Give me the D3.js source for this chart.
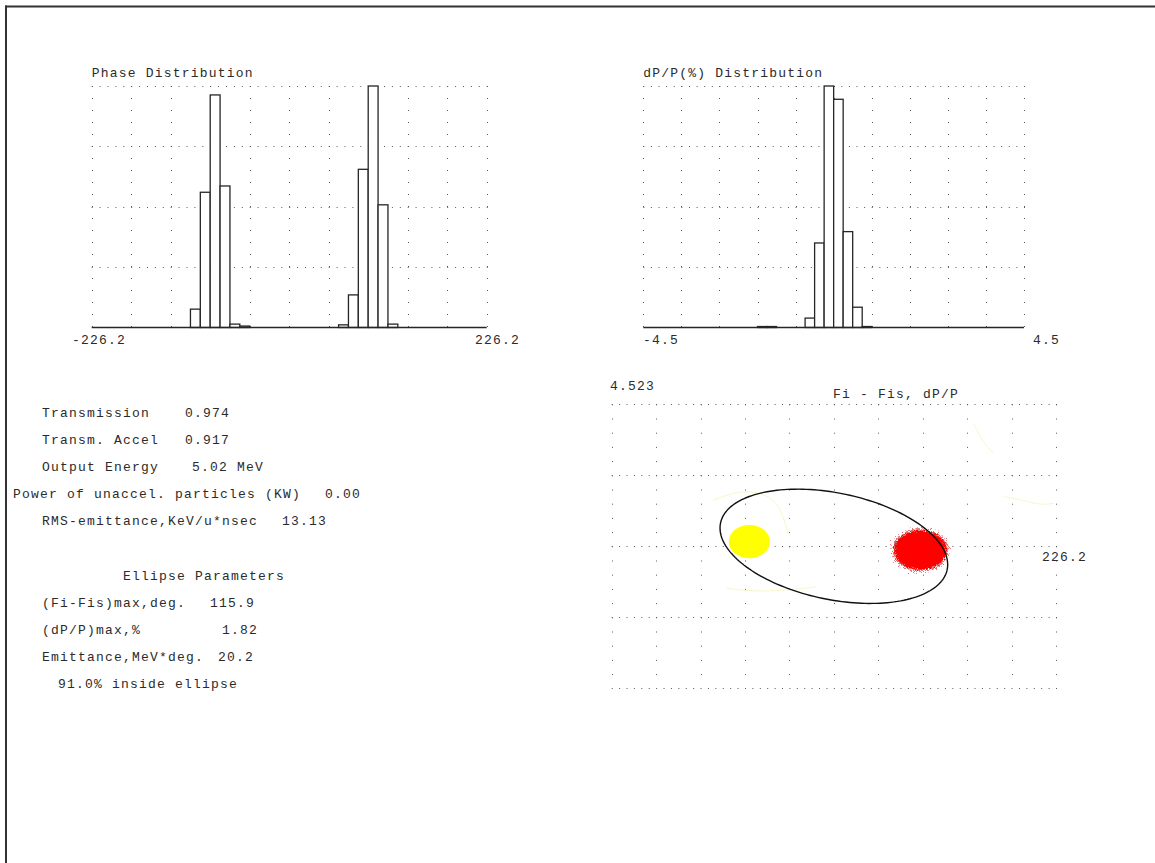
<!DOCTYPE html>
<html lang="en">
<head>
  <meta charset="utf-8">
  <title>Beam output</title>
  <script src="https://cdn.jsdelivr.net/npm/d3@7"></script>
  <style>
    body { margin: 0; background: #fff; }
    svg text { font-family: "Liberation Mono", "Courier New", monospace; font-size: 13px; letter-spacing: 1.2px; fill: #2b2b2b; }
  </style>
</head>
<body>
<div id="chart"></div>
<script>
// histogram bins (40 each), heights relative to the tallest bin
const phaseBins = [0,0,0,0,0,0,0,0,0,0, 0.076,0.56,0.963,0.586,0.014,0.006,0,0,0,0,
                   0,0,0,0,0,0.011,0.135,0.655,1.0,0.508, 0.014,0,0,0,0,0,0,0,0,0];
const dppBins = [0,0,0,0,0,0,0,0,0,0, 0,0,0.004,0.004,0,0,0,0.039,0.35,1.0,
                 0.945,0.397,0.084,0.004,0,0,0,0,0,0, 0,0,0,0,0,0,0,0,0,0];
const phaseRange = [-226.2, 226.2];
const dppRange = [-4.5, 4.5];
const dppPlotMax = 4.523;

// summary text
const statLabels = ["Transmission", "Transm. Accel", "Output Energy", "Power of unaccel. particles (KW)", "RMS-emittance,KeV/u*nsec"];
const statValues = ["0.974", "0.917", "5.02 MeV", "0.00", "13.13"];
const ellipseLabels = ["(Fi-Fis)max,deg.", "(dP/P)max,%", "Emittance,MeV*deg."];
const ellipseValues = ["115.9", "1.82", "20.2"];
const insideText = "91.0% inside ellipse";

// ellipse parameters (phase half width, dP/P half height, correlation)
const ellipsePhiMax = 115.9, ellipseDppMax = 1.82, ellipseCorr = -0.32;

// particle clouds: input bunch (yellow) and output bunch (red)
const cloudPhase = [-86, 88];
const cloudDpp = [0.15, -0.12];
const cloudPhaseSpread = [21, 28.5];
const cloudDppSpread = [0.53, 0.67];
const cloudColors = ["#ffff00", "#ff0000"];

// faint traces of lost particles
const traceUpperLeft = [[-122.8,1.47],[-95.6,1.79],[-71.9,1.69],[-58.2,1.42],[-51.5,0.94],[-46.4,0.41]];
const traceLowerLeft = [[-109.2,-1.34],[-78.6,-1.45],[-44.6,-1.39],[-17.4,-1.29]];
const traceRight = [[172.8,1.58],[193.2,1.47],[210.2,1.31],[224,1.37]];
const traceTop = [[142.2,3.92],[152.4,3.28],[162.6,2.96]];

const W = 1155, H = 863;
const svg = d3.select("#chart").append("svg")
  .attr("width", W).attr("height", H)
  .style("display", "block");

// frame
svg.append("line").attr("x1", 5).attr("x2", W).attr("y1", 6.5).attr("y2", 6.5)
  .attr("stroke", "#333").attr("stroke-width", 2);
svg.append("line").attr("x1", 6).attr("x2", 6).attr("y1", 5.5).attr("y2", H)
  .attr("stroke", "#333").attr("stroke-width", 2);

function dotGrid(g, x, y, xVals, yVals, hGap, vGap) {
  g.selectAll(".hdot").data(yVals).join("line")
    .attr("x1", x.range()[0]).attr("x2", x.range()[1] + 1)
    .attr("y1", d => Math.round(y(d)) + 0.5).attr("y2", d => Math.round(y(d)) + 0.5)
    .attr("stroke", "#5a5a5a").attr("stroke-dasharray", `1,${hGap - 1}`);
  g.selectAll(".vdot").data(xVals).join("line")
    .attr("x1", d => Math.round(x(d)) + 0.5).attr("x2", d => Math.round(x(d)) + 0.5)
    .attr("y1", y.range()[1]).attr("y2", y.range()[0])
    .attr("stroke", "#5a5a5a").attr("stroke-dasharray", `1,${vGap - 1}`);
}

function histogram(bins, range, left, right, title, lowLabelX, highLabelX) {
  const g = svg.append("g");
  const x = d3.scaleLinear().domain(range).range([left, right]);
  const y = d3.scaleLinear().domain([0, 1]).range([327.5, 86]);
  const step = (range[1] - range[0]) / 10;
  const xGrid = d3.range(11).map(i => range[0] + i * step);
  dotGrid(g, x, y, xGrid, [0.25, 0.5, 0.75, 1], (right - left) / 50, 12);

  const bw = (range[1] - range[0]) / bins.length;
  const bars = bins.map((v, i) => ({x0: range[0] + i * bw, x1: range[0] + (i + 1) * bw, v: v}))
    .filter(d => d.v > 0);
  g.selectAll("rect").data(bars).join("rect")
    .attr("x", d => x(d.x0)).attr("width", d => x(d.x1) - x(d.x0))
    .attr("y", d => y(d.v)).attr("height", d => y(0) - y(d.v))
    .attr("fill", "#fff").attr("stroke", "#262626").attr("stroke-width", 1.3);

  g.append("line").attr("x1", left).attr("x2", right)
    .attr("y1", y(0)).attr("y2", y(0)).attr("stroke", "#262626").attr("stroke-width", 1.3);

  g.append("text").attr("x", left).attr("y", 72).attr("dy", "0.35em").text(title);
  g.append("text").attr("x", lowLabelX).attr("y", 339).attr("dy", "0.35em").text(range[0]);
  g.append("text").attr("x", highLabelX).attr("y", 339).attr("dy", "0.35em").text(range[1]);
}

histogram(phaseBins, phaseRange, 91.7, 486.7, "Phase Distribution", 72, 475);
histogram(dppBins, dppRange, 643.3, 1024, "dP/P(%) Distribution", 643, 1033);

// text block
const tg = svg.append("g");
const statLabelX = [42, 42, 42, 13, 42];
const statValueX = [185, 185, 192, 325, 282];
const statY = [412, 439, 466, 493, 520];
statLabels.forEach((s, i) => {
  tg.append("text").attr("x", statLabelX[i]).attr("y", statY[i]).attr("dy", "0.35em").text(s);
  tg.append("text").attr("x", statValueX[i]).attr("y", statY[i]).attr("dy", "0.35em").text(statValues[i]);
});
tg.append("text").attr("x", 123).attr("y", 575).attr("dy", "0.35em").text("Ellipse Parameters");
const ellValueX = [210, 222, 218];
const ellY = [602, 629, 656];
ellipseLabels.forEach((s, i) => {
  tg.append("text").attr("x", 42).attr("y", ellY[i]).attr("dy", "0.35em").text(s);
  tg.append("text").attr("x", ellValueX[i]).attr("y", ellY[i]).attr("dy", "0.35em").text(ellipseValues[i]);
});
tg.append("text").attr("x", 58).attr("y", 683).attr("dy", "0.35em").text(insideText);

// phase plane plot
const pg = svg.append("g");
const px = d3.scaleLinear().domain(phaseRange).range([611.7, 1056]);
const py = d3.scaleLinear().domain([-dppPlotMax, dppPlotMax]).range([688.3, 404.3]);
const pxStep = (phaseRange[1] - phaseRange[0]) / 10;
const pyStep = dppPlotMax / 2;
dotGrid(pg, px, py,
  d3.range(11).map(i => phaseRange[0] + i * pxStep),
  d3.range(5).map(i => -dppPlotMax + i * pyStep),
  (1056 - 611.7) / 60, 284 / 20);

const defs = svg.append("defs");
function roughFilter(id, freq, scale, seed) {
  const f = defs.append("filter").attr("id", id)
    .attr("x", "-30%").attr("y", "-30%").attr("width", "160%").attr("height", "160%");
  f.append("feTurbulence").attr("type", "fractalNoise").attr("baseFrequency", freq)
    .attr("numOctaves", 2).attr("seed", seed).attr("result", "noise");
  f.append("feDisplacementMap").attr("in", "SourceGraphic").attr("in2", "noise")
    .attr("scale", scale).attr("xChannelSelector", "R").attr("yChannelSelector", "G");
}
roughFilter("rough", 0.9, 7, 3);
roughFilter("speckle", 1.6, 14, 7);
const soft = defs.append("filter").attr("id", "soft");
soft.append("feGaussianBlur").attr("stdDeviation", 0.6);

const traceLine = d3.line().curve(d3.curveBasis).x(d => px(d[0])).y(d => py(d[1]));
[traceUpperLeft, traceLowerLeft, traceRight, traceTop].forEach(t => {
  pg.append("path").attr("d", traceLine(t)).attr("fill", "none")
    .attr("stroke", "#f3ef9c").attr("stroke-width", 1).attr("opacity", 0.55);
});

cloudPhase.forEach((c, i) => {
  const cx = px(c), cy = py(cloudDpp[i]);
  const rx = px(c + cloudPhaseSpread[i]) - cx;
  const ry = cy - py(cloudDpp[i] + cloudDppSpread[i]);
  if (i === 1) {
    // loose particles around the dense core
    pg.append("ellipse").attr("cx", cx).attr("cy", cy).attr("rx", rx).attr("ry", ry)
      .attr("fill", "#d83a3a").attr("opacity", 0.7).attr("filter", "url(#speckle)");
  }
  pg.append("ellipse").attr("cx", cx).attr("cy", cy)
    .attr("rx", i === 1 ? rx * 0.93 : rx).attr("ry", i === 1 ? ry * 0.93 : ry)
    .attr("fill", cloudColors[i])
    .attr("filter", i === 1 ? "url(#rough)" : "url(#soft)");
});

const phi = Math.acos(ellipseCorr);
const ellPts = d3.range(0, 361, 2).map(a => {
  const t = a * Math.PI / 180;
  return [ellipsePhiMax * Math.cos(t), ellipseDppMax * Math.cos(t + phi)];
});
pg.append("path")
  .attr("d", d3.line().x(d => px(d[0])).y(d => py(d[1]))(ellPts))
  .attr("fill", "none").attr("stroke", "#111").attr("stroke-width", 1.4);

pg.append("text").attr("x", 610).attr("y", 385).attr("dy", "0.35em").text(dppPlotMax);
pg.append("text").attr("x", 833).attr("y", 393).attr("dy", "0.35em").text("Fi - Fis, dP/P");
pg.append("text").attr("x", 1042).attr("y", 556).attr("dy", "0.35em").text(phaseRange[1]);
</script>
</body>
</html>
